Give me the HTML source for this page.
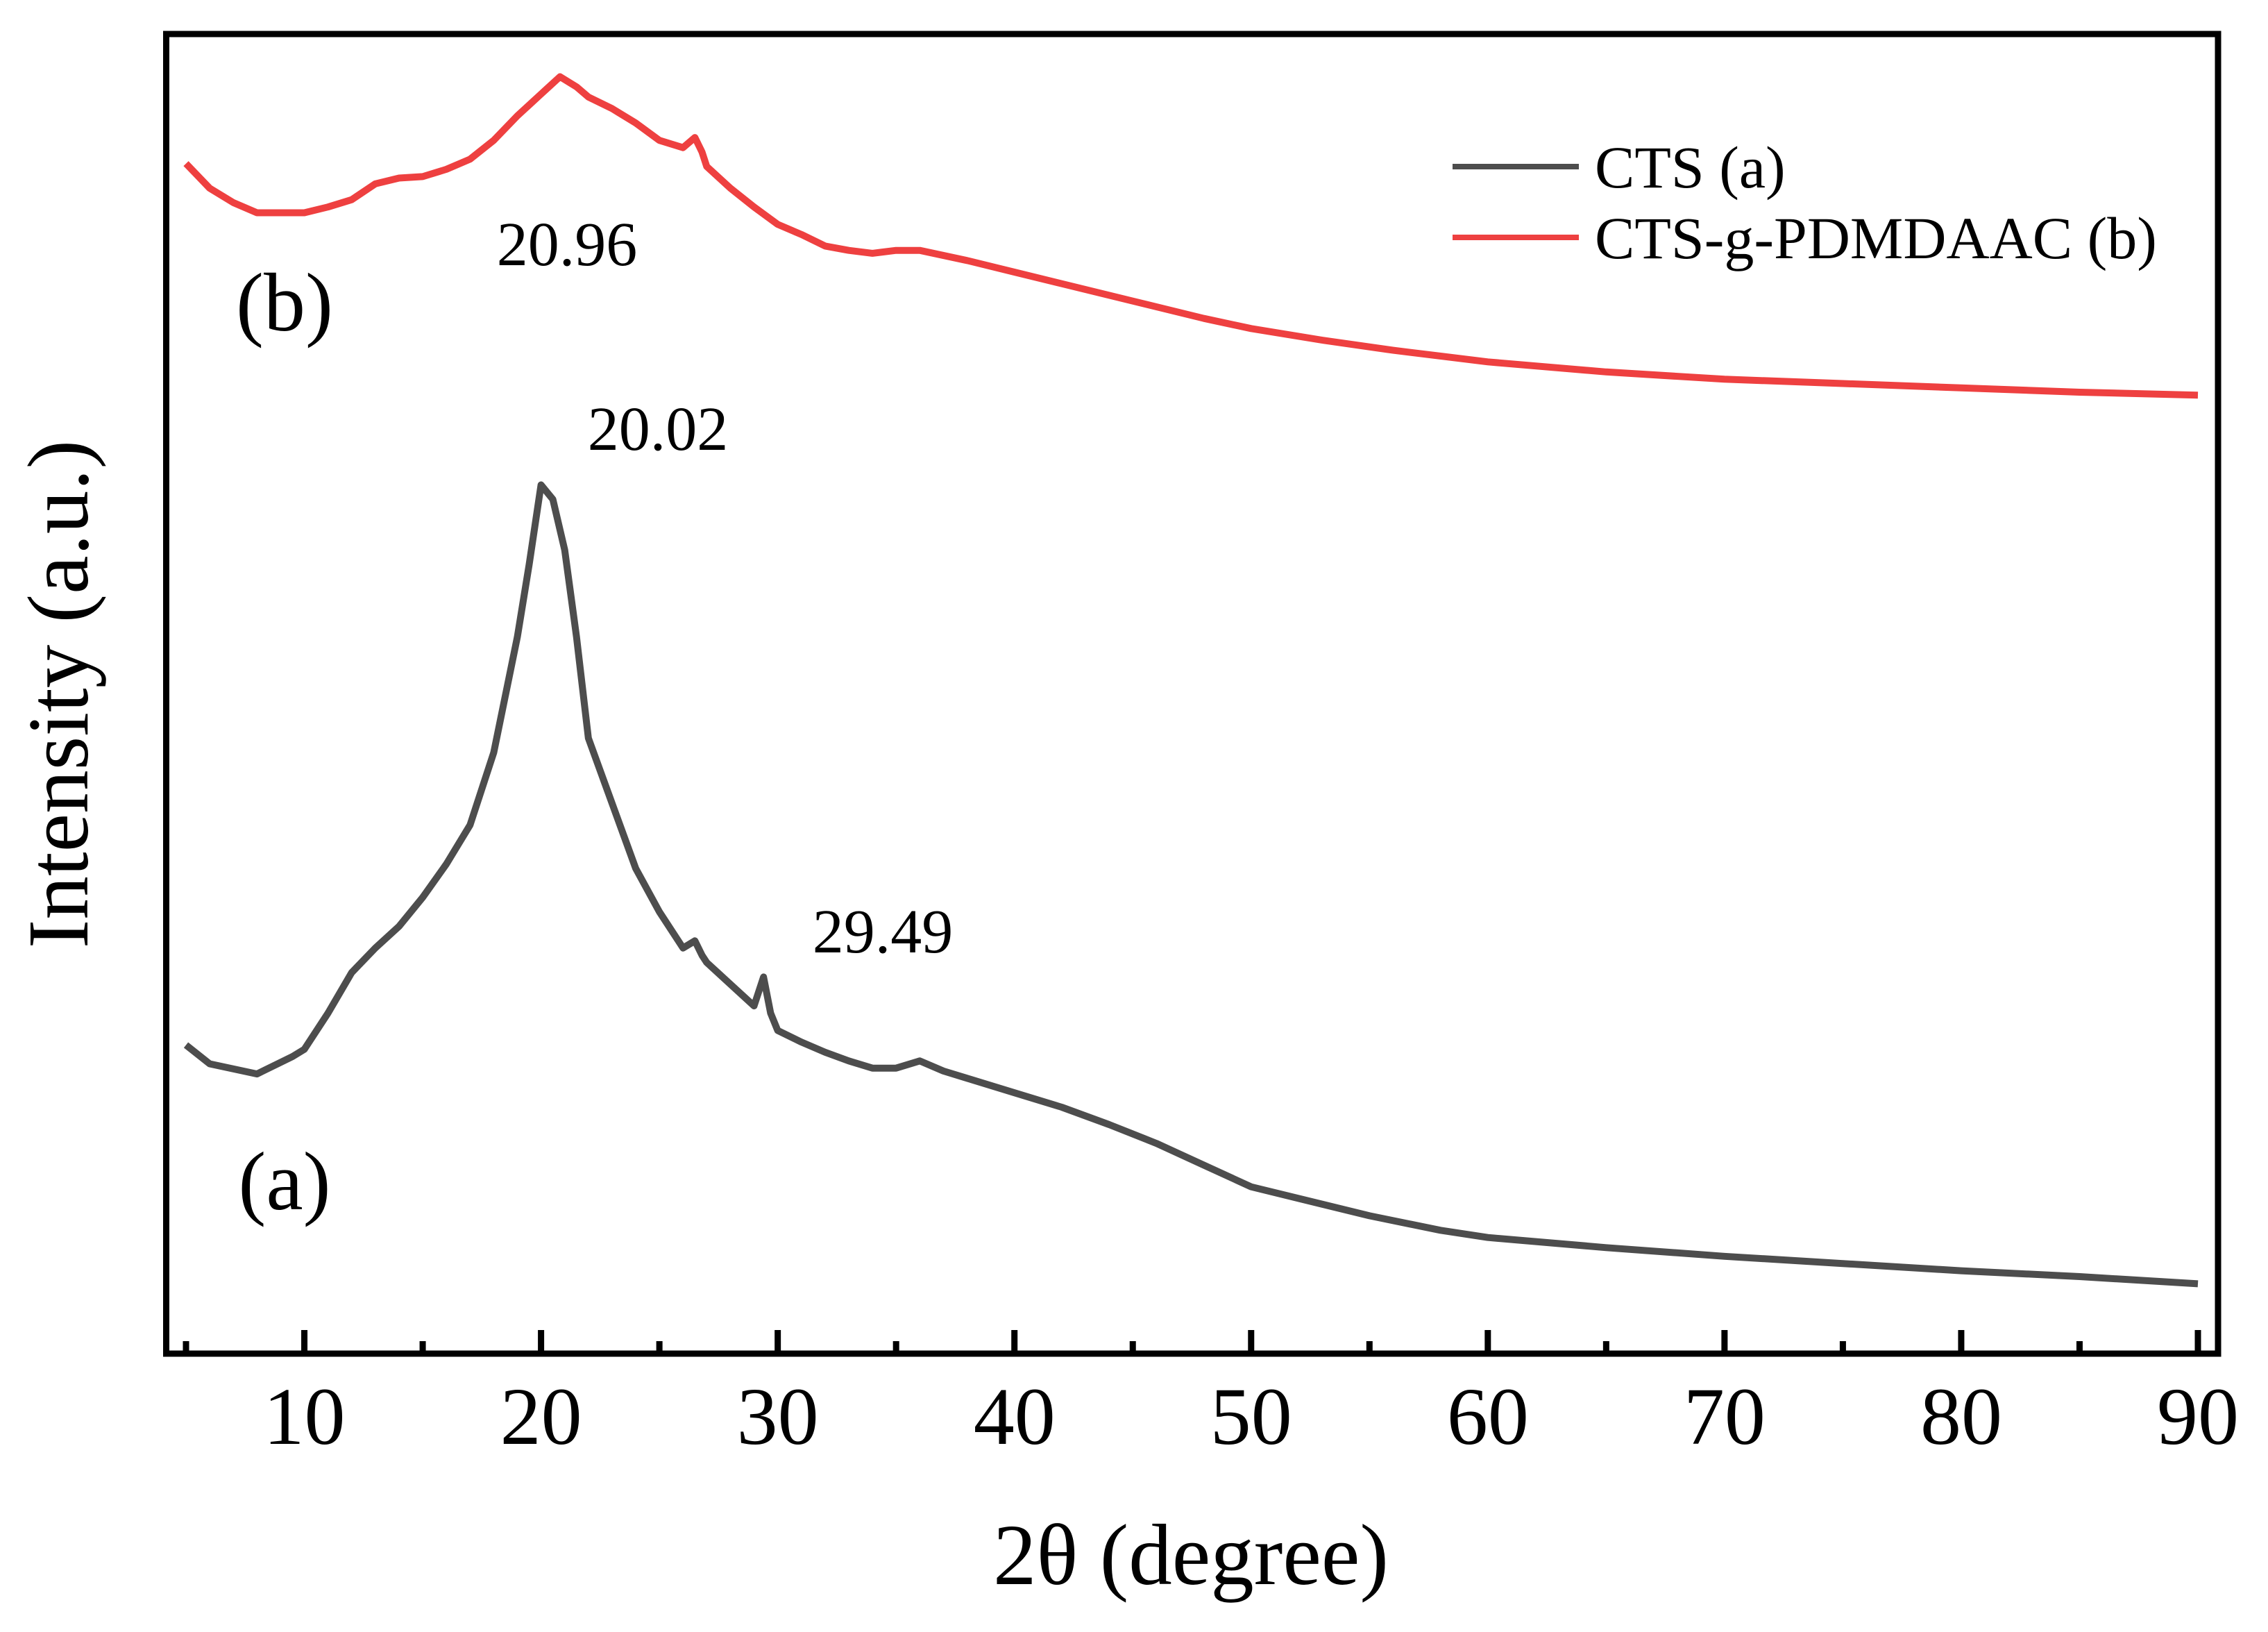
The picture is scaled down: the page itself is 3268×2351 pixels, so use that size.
<!DOCTYPE html>
<html><head><meta charset="utf-8"><style>
html,body{margin:0;padding:0;background:#fff}
svg{display:block}
text{font-family:"Liberation Serif",serif;fill:#000}
</style></head><body>
<svg id="chart" width="3268" height="2351" viewBox="0 0 3268 2351">
<g id="plot"></g>
<rect x="239.5" y="49" width="2956.5" height="1901" fill="none" stroke="#000" stroke-width="9"/>
<g id="ticks"></g>
<text x="1716" y="2282" font-size="125" text-anchor="middle">2θ (degree)</text>
<text transform="translate(126,1000) rotate(-90)" font-size="125" text-anchor="middle">Intensity (a.u.)</text>
<text x="817" y="382" font-size="90" text-anchor="middle">20.96</text>
<text x="948" y="648" font-size="90" text-anchor="middle">20.02</text>
<text x="1272" y="1372" font-size="90" text-anchor="middle">29.49</text>
<text x="410" y="476" font-size="120" text-anchor="middle">(b)</text>
<text x="410" y="1742" font-size="120" text-anchor="middle">(a)</text>
<g>
<line x1="2093" y1="240" x2="2275" y2="240" stroke="#4d4d4d" stroke-width="8"/>
<text x="2298" y="270" font-size="86">CTS (a)</text>
<line x1="2093" y1="342" x2="2275" y2="342" stroke="#ee4040" stroke-width="8"/>
<text x="2298" y="372" font-size="86">CTS-g-PDMDAAC (b)</text>
</g>
</svg>
<script>
const xA=[5,6,8,9.5,10,11,12,13,14,15,16,17,18,19,19.5,20,20.5,21,21.5,22,23,24,25,26,26.5,26.8,27,28,29,29.4,29.7,30,31,32,33,34,35,36,37,38,40,42,44,46,48,50,52,55,58,60,65,70,75,80,85,90];
const yA=[278,265,258,270,275,300,328,345,360,380,403,430,480,560,610,665,655,620,560,490,445,400,370,345,350,340,335,320,305,325,300,288,280,273,267,262,262,267,260,255,245,235,223,210,195,180,172,160,150,145,138,132,127,122,118,113];
const xB=[5,6,7,8,9,10,11,12,13,14,15,16,17,18,19,20,20.8,21.5,22,23,24,25,26,26.5,26.8,27,28,29,30,31,32,33,34,35,36,38,40,42,45,48,50,53,56,60,65,70,75,80,85,90];
const yB=[887,870,860,853,853,853,857,862,873,877,878,883,890,903,920,935,947,940,933,925,915,903,898,905,895,885,870,857,845,838,830,827,825,827,827,820,812,804,792,780,773,765,758,750,743,738,735,732,729,727];
const xTicks=[10,20,30,40,50,60,70,80,90];
const NS='http://www.w3.org/2000/svg';
const X=v=>268+(v-5)*(3167-268)/85;
const Y=v=>(1000-v)*2.085;
const plot=document.getElementById('plot');
function line(xs,ys,color,name){
  const p=document.createElementNS(NS,'polyline');
  p.setAttribute('points',xs.map((x,i)=>X(x).toFixed(1)+','+Y(ys[i]).toFixed(1)).join(' '));
  p.setAttribute('fill','none');p.setAttribute('stroke',color);p.setAttribute('stroke-width','10');
  p.setAttribute('stroke-linejoin','round');
  
  
  plot.appendChild(p);
}
line(xA,yA,'#4d4d4d','series-cts');
line(xB,yB,'#ee4040','series-cts-g-pdmdaac');
const tg=document.getElementById('ticks');
for(let v=5;v<=90;v+=5){
  const major=v%10===0;
  const l=document.createElementNS(NS,'line');
  l.setAttribute('x1',X(v));l.setAttribute('x2',X(v));
  l.setAttribute('y1',1950);l.setAttribute('y2',major?1916:1932);
  l.setAttribute('stroke','#000');l.setAttribute('stroke-width','9');
  
  
  tg.appendChild(l);
}
xTicks.forEach(v=>{
  const t=document.createElementNS(NS,'text');
  t.setAttribute('x',X(v));t.setAttribute('y',2080);
  t.setAttribute('font-size','118');t.setAttribute('text-anchor','middle');
  t.textContent=v;
  
  
  tg.appendChild(t);
});
</script>
</body></html>
